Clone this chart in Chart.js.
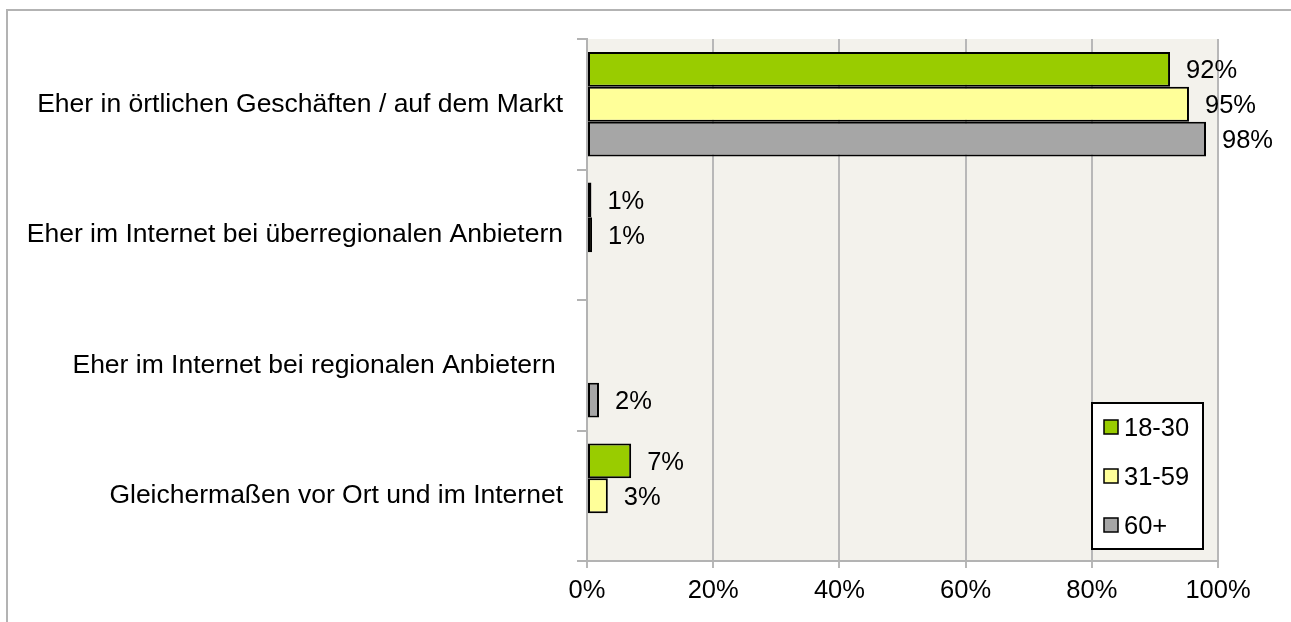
<!DOCTYPE html>
<html>
<head>
<meta charset="utf-8">
<script src="https://cdn.jsdelivr.net/npm/chart.js@4"></script>
<style>
  body { margin: 0; background: #fff; overflow: hidden; }
  #frame { position: absolute; left: 6px; top: 9px; width: 1400px; height: 800px;
           border-left: 2px solid #b3b3b3; border-top: 2px solid #b3b3b3; }
  #c { position: absolute; left: 0; top: 0; }
</style>
</head>
<body>
<div id="frame"></div>
<canvas id="c" width="1291" height="622"></canvas>
<script>
// data
const categories = [
    'Eher in örtlichen Geschäften / auf dem Markt',
    'Eher im Internet bei überregionalen Anbietern',
    'Eher im Internet bei regionalen Anbietern ',
    'Gleichermaßen vor Ort und im Internet'
];
const seriesNames = ['18-30', '31-59', '60+'];
const age18_30 = [92.4, 0.7, null, 7.0];
const age31_59 = [95.4, 0.8, null, 3.3];
const age60 = [98.1, null, 1.9, null];
const xTicks = [0, 20, 40, 60, 80, 100];

const colors = ['#99cc00', '#ffff99', '#a6a6a6'];
const FONT = '"Liberation Sans", Arial, sans-serif';

// plot background
const bgPlugin = {
    id: 'plotBg',
    beforeDraw(chart) {
        let a = chart.chartArea;
        let ctx = chart.ctx;
        ctx.save();
        ctx.fillStyle = '#f3f2ec';
        ctx.fillRect(a.left, a.top, a.right - a.left, a.bottom - a.top);
        ctx.restore();
    }
};

// value labels at bar ends
const labelPlugin = {
    id: 'barLabels',
    afterDatasetsDraw(chart) {
        let ctx = chart.ctx;
        ctx.save();
        ctx.font = '25.5px ' + FONT;
        ctx.fillStyle = '#000';
        ctx.textAlign = 'left';
        ctx.textBaseline = 'middle';
        chart.data.datasets.forEach((ds, i) => {
            let meta = chart.getDatasetMeta(i);
            meta.data.forEach((el, j) => {
                let v = ds.data[j];
                if (v === null) return;
                ctx.fillText(Math.round(v) + '%', el.x + 16, el.y + 2);
            });
        });
        ctx.restore();
    }
};

// boxed legend inside the plot, bottom right
const legendPlugin = {
    id: 'boxLegend',
    afterDraw(chart) {
        let a = chart.chartArea;
        let ctx = chart.ctx;
        let w = 111, h = 146;
        let left = a.right - 15 - w;
        let top = a.bottom - 12 - h;
        ctx.save();
        ctx.fillStyle = '#fff';
        ctx.fillRect(left, top, w, h);
        ctx.strokeStyle = '#000';
        ctx.lineWidth = 2;
        ctx.strokeRect(left, top, w, h);
        ctx.font = '25.5px ' + FONT;
        ctx.textBaseline = 'middle';
        chart.data.datasets.forEach((ds, i) => {
            let y = top + 24 + i * 49;
            ctx.fillStyle = ds.backgroundColor;
            ctx.fillRect(left + 12, y - 7, 14, 14);
            ctx.lineWidth = 1.5;
            ctx.strokeStyle = '#000';
            ctx.strokeRect(left + 12, y - 7, 14, 14);
            ctx.fillStyle = '#000';
            ctx.fillText(ds.label, left + 32, y + 2);
        });
        ctx.restore();
    }
};

const ctx = document.getElementById('c');
const chart = new Chart(ctx, {
    type: 'bar',
    data: {
        labels: categories,
        datasets: [age18_30, age31_59, age60].map((d, i) => ({
            label: seriesNames[i],
            data: d,
            backgroundColor: colors[i],
            borderColor: '#000',
            borderWidth: 2,
            borderSkipped: false,
            barPercentage: 1,
            categoryPercentage: 0.8
        }))
    },
    options: {
        indexAxis: 'y',
        responsive: false,
        animation: false,
        layout: { padding: { top: 39, right: 73, left: 0, bottom: 0 } },
        scales: {
            y: {
                afterFit: (s) => { s.width = 587; },
                ticks: {
                    color: '#000',
                    padding: 14,
                    font: { family: FONT, size: 26.5 }
                },
                grid: {
                    offset: true,
                    drawOnChartArea: false,
                    tickLength: 10,
                    color: '#b3b3b3',
                    lineWidth: 2
                },
                border: { color: '#b3b3b3', width: 2 }
            },
            x: {
                min: 0,
                max: 100,
                afterFit: (s) => { s.height = 61; },
                afterBuildTicks: (s) => { s.ticks = xTicks.map(v => ({ value: v })); },
                ticks: {
                    color: '#000',
                    padding: 8,
                    font: { family: FONT, size: 25.5 },
                    callback: (v) => v + '%'
                },
                grid: {
                    color: '#b8b8b8',
                    lineWidth: 2,
                    tickLength: 7
                },
                border: { color: '#b3b3b3', width: 2 }
            }
        },
        plugins: {
            legend: { display: false },
            tooltip: { enabled: false },
            title: { display: false }
        }
    },
    plugins: [bgPlugin, labelPlugin, legendPlugin]
});
</script>
</body>
</html>
